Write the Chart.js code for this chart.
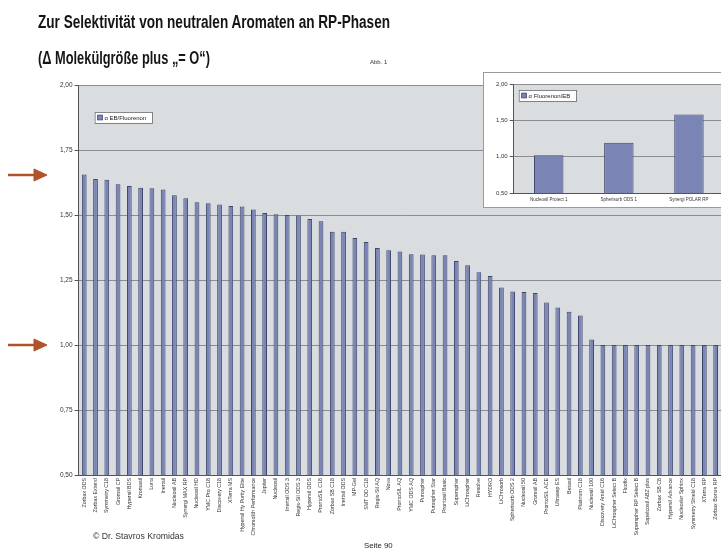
<!DOCTYPE html>
<html><head><meta charset="utf-8">
<script src="https://cdn.jsdelivr.net/npm/chart.js@4"></script>
<style>
html,body{margin:0;padding:0;width:721px;height:553px;overflow:hidden;background:#fff;}
.t{position:absolute;font-family:"Liberation Sans",Arial,sans-serif;font-weight:bold;color:#151515;white-space:nowrap;transform-origin:0 0;}
.s{position:absolute;font-family:"Liberation Sans",Arial,sans-serif;color:#333;white-space:nowrap;}
#insetBox{position:absolute;left:483px;top:72px;width:245px;height:134px;border:1px solid #9a9a9a;background:#fff;overflow:hidden;}
</style></head><body>
<canvas id="main" width="725" height="553" style="position:absolute;left:0;top:0"></canvas>
<div class="t" id="t1" data-w="352" style="left:38px;top:12px;font-size:17.5px">Zur Selektivität von neutralen Aromaten an RP-Phasen</div>
<div class="t" id="t2" data-w="172" style="left:38px;top:48px;font-size:17.5px">(Δ Molekülgröße plus „= O“)</div>
<div class="s" style="left:370px;top:59px;font-size:6px">Abb. 1</div>
<div class="s" style="left:93px;top:531px;font-size:8.7px">© Dr. Stavros Kromidas</div>
<div class="s" style="left:364px;top:541px;font-size:7.8px;color:#222">Seite 90</div>
<svg style="position:absolute;left:0;top:0" width="60" height="553">
  <g fill="#b0522a" stroke="#b0522a">
    <line x1="8" y1="175" x2="38" y2="175" stroke-width="2.5"/>
    <polygon points="34,169 47,175 34,181" stroke-width="1"/>
    <line x1="8" y1="345" x2="38" y2="345" stroke-width="2.5"/>
    <polygon points="34,339 47,345 34,351" stroke-width="1"/>
  </g>
</svg>
<div id="insetBox"><canvas id="inset" width="240" height="134"></canvas></div>
<script>
// ---- data ----
const categories = [
  "Zorbax ODS","Zorbax Extend","Symmetry C18","Gromsil CP","Hypersil BDS","Kromasil","Luna","Inertsil",
  "Nucleosil AB","Synergi MAX RP","Nucleosil HD","YMC Pro C18","Discovery C18","XTerra MS",
  "Hypersil Hy Purity Elite","Chromolith Performance","Jupiter","Nucleosil","Inertsil ODS 3","Regis-Sil ODS 3",
  "Hypersil ODS","ProntoSIL C18","Zorbax SB C18","Inertsil ODS","MP-Gel","SMT OD C18","Regis-Sil AQ","Nova",
  "ProntoSIL AQ","YMC ODS AQ","Purospher","Purospher Star","Prontosil Basic","Superspher","LiChrospher",
  "Resolve","HYDRO","LiChrosorb","Spherisorb ODS 2","Nucleosil 50","Gromsil AB","ProntoSIL ACE","Ultrasep ES",
  "Betasil","Platinum C18","Nucleosil 100","Discovery Amid C16","LiChrospher Select B","Fluofix",
  "Superspher RP Select B","Supelcosil ABZ plus","Zorbax SB C8","Hypersil Advance","Nucleodur Sphinx",
  "Symmetry Shield C18","XTerra RP","Zorbax Bonus RP"
];
const alphaEB = [
  1.656,1.638,1.636,1.618,1.612,1.605,1.603,1.598,1.576,1.564,1.549,1.545,1.540,1.535,1.533,1.521,
  1.508,1.503,1.500,1.498,1.485,1.476,1.436,1.436,1.412,1.396,1.373,1.364,1.360,1.349,1.348,1.345,
  1.345,1.323,1.307,1.280,1.265,1.221,1.206,1.204,1.200,1.163,1.144,1.128,1.113,1.021,
  1.00,1.00,1.00,1.00,1.00,1.00,1.00,1.00,1.00,1.00,1.00
];
const yTickValues = [0.50,0.75,1.00,1.25,1.50,1.75,2.00];
const insetCategories = ["Nucleosil Protect 1","Spherisorb ODS 1","Synergi POLAR RP"];
const insetValues = [1.02,1.19,1.58];
const insetTickValues = [0.50,1.00,1.50,2.00];
const mainLabel = "α EB/Fluorenon";
const insetLabel = "α Fluorenon/EB";

// narrow the title lines to the reference widths
for (const el of document.querySelectorAll('.t')) {
  const w = el.getBoundingClientRect().width;
  el.style.transform = 'scaleX(' + (Number(el.dataset.w) / w) + ')';
}

// ---- styling ----
const BAR_FILL = "#7a85b5";
const BAR_EDGE = "#3f466a";
const PLOT_BG = "#d9dde0";
const GRID = "#8a8e93";
const FONT = "'Liberation Sans', Arial, sans-serif";
const fmt = v => Number(v).toFixed(2).replace('.', ',');

const plotBg = {
  id: 'plotBg',
  beforeDraw(chart) {
    const {ctx, chartArea: a} = chart;
    ctx.save(); ctx.fillStyle = PLOT_BG;
    ctx.fillRect(a.left, a.top, a.right - a.left, a.bottom - a.top);
    ctx.restore();
  }
};
const boxLegend = {
  id: 'boxLegend',
  afterDraw(chart, args, o) {
    const {ctx, chartArea: a} = chart;
    const ds = chart.data.datasets[0];
    ctx.save();
    ctx.font = o.size + "px " + FONT;
    const tw = ctx.measureText(ds.label).width;
    const x = a.left + o.dx, y = a.top + o.dy;
    const w = tw + o.size * 2.6, h = o.h;
    ctx.fillStyle = "#fff"; ctx.fillRect(x, y, w, h);
    ctx.strokeStyle = "#6a6a6a"; ctx.lineWidth = 0.8; ctx.strokeRect(x + 0.5, y + 0.5, w, h);
    const sw = o.size * 0.8;
    ctx.fillStyle = ds.backgroundColor; ctx.fillRect(x + 3, y + (h - sw) / 2, sw, sw);
    ctx.strokeStyle = ds.borderColor; ctx.strokeRect(x + 3, y + (h - sw) / 2, sw, sw);
    ctx.fillStyle = "#222"; ctx.textBaseline = "middle";
    ctx.fillText(ds.label, x + 5 + sw, y + h / 2 + 0.5);
    ctx.restore();
  }
};

function makeChart(el, cats, vals, label, ticks, cfg) {
  return new Chart(el, {
    type: 'bar',
    data: { labels: cats, datasets: [{ label, data: vals, backgroundColor: BAR_FILL, borderColor: BAR_EDGE,
      borderWidth: 1, barPercentage: cfg.barPct, categoryPercentage: 1 }] },
    plugins: [plotBg, boxLegend],
    options: {
      responsive: false, animation: false, devicePixelRatio: 1,
      layout: { padding: { top: cfg.top, left: 0, right: 0, bottom: 0 } },
      plugins: { legend: { display: false }, tooltip: { enabled: false },
        boxLegend: cfg.legend },
      scales: {
        x: {
          grid: { display: false, drawTicks: false },
          border: { display: true, color: "#555" },
          ticks: { autoSkip: false, maxRotation: 90, minRotation: cfg.xRot, padding: cfg.xPad,
            font: { family: FONT, size: cfg.xFont }, color: "#333" },
          afterFit: ax => { ax.height = cfg.xH; }
        },
        y: {
          min: ticks[0], max: ticks[ticks.length - 1],
          afterBuildTicks: ax => { ax.ticks = ticks.map(v => ({ value: v })); },
          grid: { color: GRID, lineWidth: 1, tickLength: 4, tickColor: "#555" },
          border: { display: true, color: "#555" },
          ticks: { padding: 2, font: { family: FONT, size: cfg.yFont }, color: "#333", callback: v => fmt(v) },
          afterFit: ax => { ax.width = cfg.yW; }
        }
      }
    }
  });
}

makeChart(document.getElementById('main'), categories, alphaEB, mainLabel, yTickValues, {
  barPct: 0.42, top: 85, xH: 78, yW: 78.6, xFont: 5.3, yFont: 6.5, xPad: 3, xRot: 90,
  legend: { dx: 16, dy: 27, size: 6, h: 11 }
});
makeChart(document.getElementById('inset'), insetCategories, insetValues, insetLabel, insetTickValues, {
  barPct: 0.42, top: 11, xH: 14, yW: 29.7, xFont: 4.5, yFont: 6, xPad: 4, xRot: 0,
  legend: { dx: 5, dy: 6, size: 6, h: 11 }
});
</script>
</body></html>
